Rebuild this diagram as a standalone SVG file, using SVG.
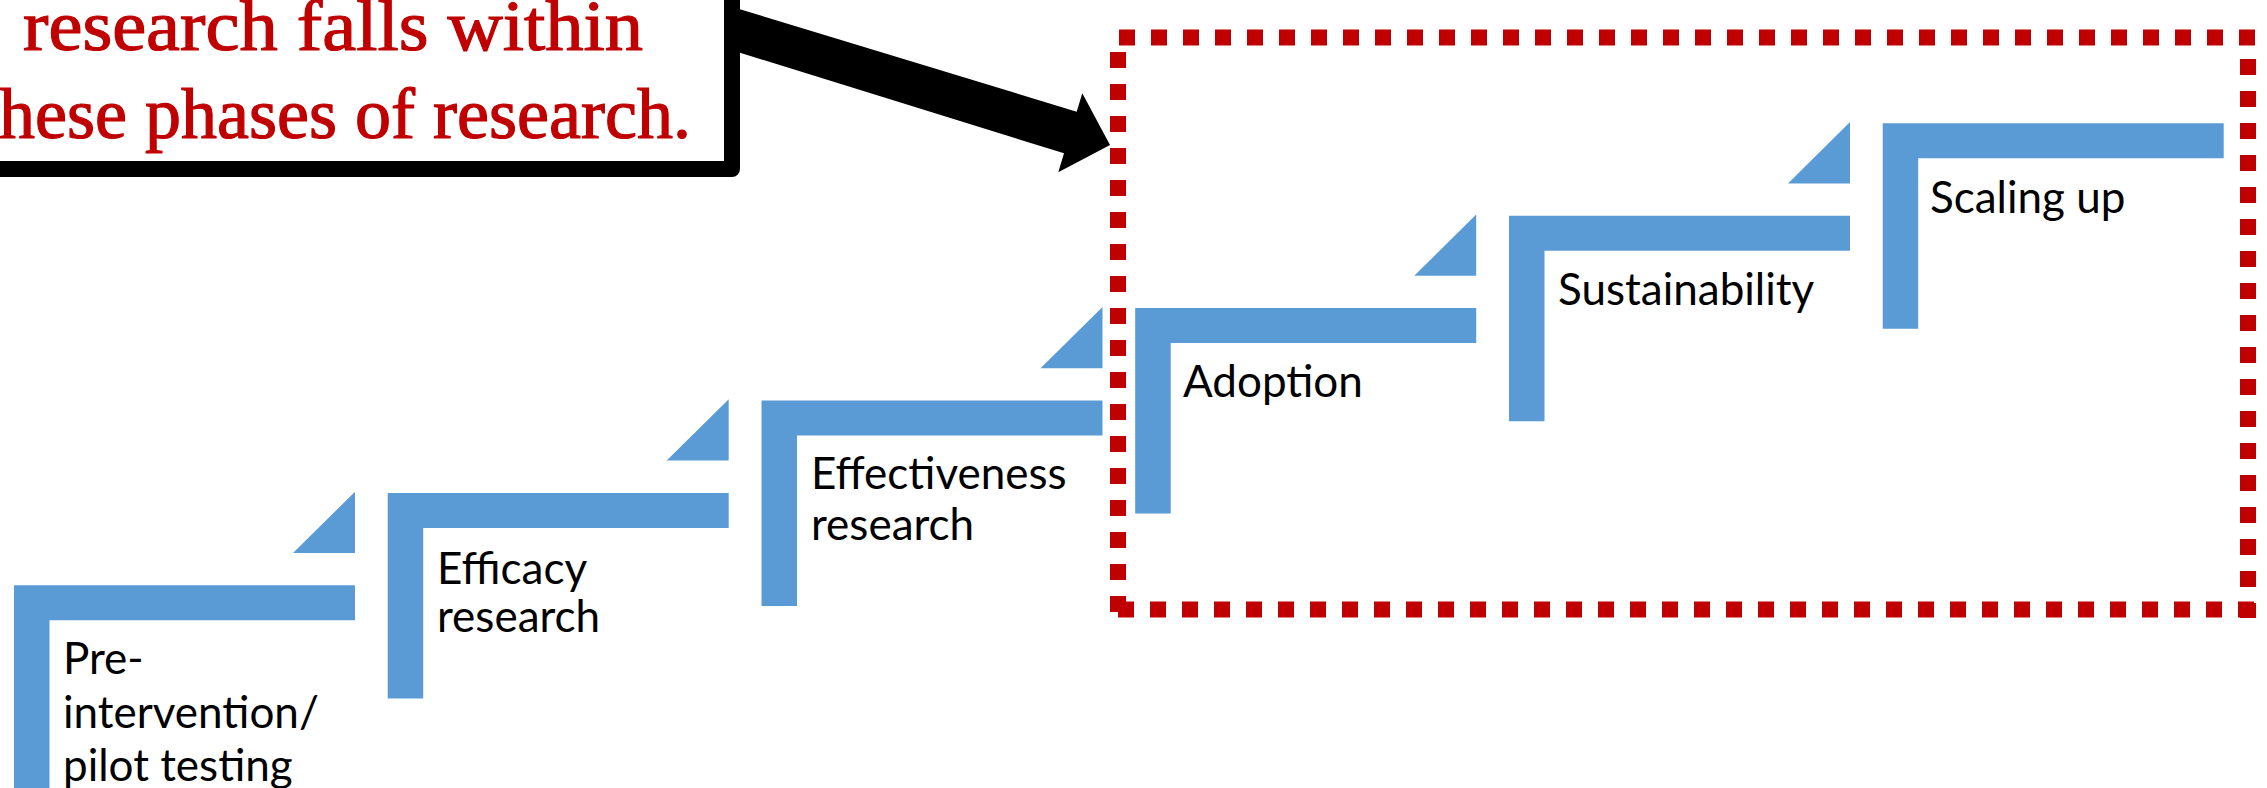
<svg xmlns="http://www.w3.org/2000/svg" width="2267" height="788" viewBox="0 0 2267 788">
  <style>
    .step { fill: #5B9BD5; }
    .lbl { font-family: Lato, "Open Sans", "Liberation Sans", sans-serif; font-size: 44px; fill: #000000; }
    .call { font-family: "Liberation Serif", "DejaVu Serif", serif; font-size: 72px; fill: #C00000; stroke: #C00000; stroke-width: 1.2; }
    .dots { stroke: #C00000; stroke-width: 16; stroke-dasharray: 16 16; fill: none; }
  </style>
  <defs>
    <path id="corner" d="M0,0 h341 v35 h-305.5 v170.5 h-35.5 z"/>
    <path id="tri" d="M341,-93.6 V-32.3 H279 z"/>
  </defs>
  <rect x="0" y="0" width="2267" height="788" fill="#FFFFFF"/>

  <g id="step1" class="step" transform="translate(14,585.3)">
    <use href="#corner"/><use href="#tri"/>
  </g>
  <g id="step2" class="step" transform="translate(387.7,492.9)">
    <use href="#corner"/><use href="#tri"/>
  </g>
  <g id="step3" class="step" transform="translate(761.5,400.5)">
    <use href="#corner"/><use href="#tri"/>
  </g>
  <g id="step4" class="step" transform="translate(1135.2,308.1)">
    <use href="#corner"/><use href="#tri"/>
  </g>
  <g id="step5" class="step" transform="translate(1509,215.7)">
    <use href="#corner"/><use href="#tri"/>
  </g>
  <g id="step6" class="step" transform="translate(1882.7,123.3)">
    <use href="#corner"/>
  </g>

  <g id="labels">
    <text class="lbl" x="63" y="674">Pre-</text>
    <text class="lbl" x="63" y="727.5">intervention/</text>
    <text class="lbl" x="63" y="781">pilot testing</text>
    <text class="lbl" x="437" y="583.5">Efficacy</text>
    <text class="lbl" x="437" y="632">research</text>
    <text class="lbl" x="811" y="488.5">Effectiveness</text>
    <text class="lbl" x="811" y="540">research</text>
    <text class="lbl" x="1183" y="397.3">Adoption</text>
    <text class="lbl" x="1558" y="305">Sustainability</text>
    <text class="lbl" x="1930" y="212.7">Scaling up</text>
  </g>

  <g id="highlight-box">
    <line class="dots" x1="1119" y1="37.5" x2="2256" y2="37.5"/>
    <line class="dots" x1="2248" y1="59" x2="2248" y2="618"/>
    <line class="dots" x1="1118" y1="609.5" x2="2256" y2="609.5"/>
    <line class="dots" x1="1118" y1="52" x2="1118" y2="613"/>
  </g>

  <g id="connectors">
    <polygon points="720,3.2 1076.7,111.7 1082.3,93.3 1110,145 1058.3,172.3 1064,153.3 720,46.5" fill="#000000"/>
  </g>

  <g id="callout">
    <rect x="-100" y="-100" width="832" height="269" fill="#FFFFFF" stroke="#000000" stroke-width="16" stroke-linejoin="round"/>
    <text class="call" x="23" y="50" textLength="620" lengthAdjust="spacingAndGlyphs">research falls within</text>
    <text class="call" x="-1" y="138.3" textLength="692" lengthAdjust="spacingAndGlyphs">hese phases of research.</text>
  </g>
</svg>
